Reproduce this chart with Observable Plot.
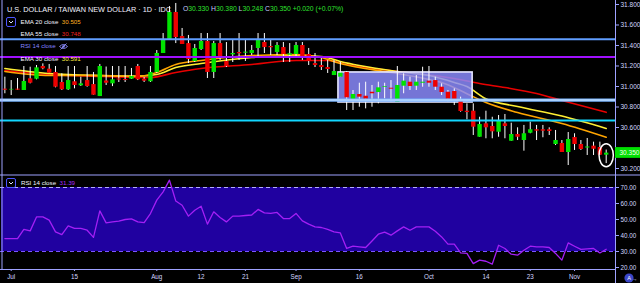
<!DOCTYPE html>
<html><head><meta charset="utf-8">
<script src="https://cdn.jsdelivr.net/npm/d3@7"></script>
<script src="https://cdn.jsdelivr.net/npm/@observablehq/plot@0.6"></script>
<style>
html,body{margin:0;padding:0;background:#000;}
#chart{position:relative;width:640px;height:283px;background:#000;overflow:hidden;font-family:"Liberation Sans",Arial,sans-serif;}
#chart svg{display:block;}
.lg{position:absolute;white-space:nowrap;line-height:1;}
.box{position:absolute;width:8px;height:8px;border:1px solid #4d55ff;border-radius:2px;}
</style></head><body><div id="chart"></div>
<script>
// ---- data (bar index -1 = Jun 28 2019, 0 = Jul 1 2019 ... 94 = Nov 8 2019)
const open = [30.974,30.966,30.974,30.961,31.075,31.071,31.195,31.169,31.137,31.039,30.968,31.046,31.007,31.058,31.019,30.902,31.054,31.026,31.073,31.068,31.071,31.195,31.071,31.046,31.137,31.322,31.459,31.722,31.488,31.419,31.244,31.361,31.439,31.137,31.419,31.244,31.309,31.332,31.325,31.322,31.371,31.429,31.390,31.332,31.380,31.305,31.312,31.400,31.312,31.224,31.205,31.185,31.107,31.091,31.137,30.873,30.922,30.905,30.944,30.941,30.993,30.983,30.844,31.003,31.042,31.003,31.032,31.052,31.058,30.993,30.944,30.951,30.863,30.759,30.759,30.505,30.636,30.610,30.554,30.636,30.466,30.532,30.473,30.544,30.578,30.578,30.578,30.434,30.444,30.356,30.502,30.434,30.400,30.418,30.405,30.330];
const high = [31.091,31.058,31.078,31.195,31.188,31.205,31.221,31.215,31.195,31.124,31.195,31.195,31.091,31.195,31.137,31.215,31.190,31.195,31.195,31.195,31.176,31.215,31.088,31.195,31.351,31.517,31.780,31.810,31.566,31.498,31.410,31.517,31.517,31.439,31.517,31.429,31.449,31.517,31.459,31.400,31.517,31.517,31.449,31.429,31.429,31.419,31.429,31.429,31.371,31.322,31.273,31.254,31.254,31.237,31.146,30.961,31.032,31.042,31.010,31.042,31.032,31.058,31.195,31.124,31.091,31.107,31.188,31.195,31.091,31.026,30.961,30.977,30.896,30.831,30.831,30.700,30.759,30.700,30.717,30.727,30.642,30.597,30.620,30.652,30.620,30.620,30.597,30.571,30.473,30.551,30.539,30.473,30.493,30.457,30.457,30.380];
const low = [30.929,30.912,30.961,30.961,31.026,31.065,31.163,31.130,30.987,30.961,30.961,30.977,31.000,30.993,30.915,30.902,31.010,30.999,31.039,31.039,31.068,31.058,31.039,31.039,31.127,31.322,31.449,31.419,31.410,31.224,31.234,31.351,31.078,31.078,31.254,31.185,31.234,31.254,31.244,31.302,31.283,31.322,31.302,31.302,31.234,31.234,31.283,31.254,31.205,31.185,31.156,31.127,31.107,31.091,30.766,30.766,30.798,30.782,30.798,30.831,30.880,30.847,30.844,30.929,30.961,30.961,30.993,30.993,30.961,30.912,30.847,30.815,30.749,30.675,30.522,30.505,30.490,30.490,30.505,30.490,30.466,30.473,30.369,30.539,30.473,30.500,30.522,30.424,30.356,30.229,30.376,30.376,30.327,30.327,30.327,30.248];
const close = [30.964,30.972,30.964,31.049,31.032,31.182,31.173,31.130,30.993,30.968,31.058,31.010,31.026,31.000,30.915,31.195,31.032,31.065,31.063,31.058,31.098,31.065,31.052,31.137,31.322,31.459,31.722,31.478,31.410,31.263,31.371,31.439,31.137,31.419,31.273,31.195,31.322,31.319,31.335,31.351,31.449,31.380,31.378,31.400,31.312,31.319,31.400,31.293,31.244,31.205,31.185,31.166,31.146,31.130,30.890,30.922,30.896,30.876,30.929,30.987,31.000,30.974,31.010,31.052,31.000,31.042,31.042,31.032,30.993,30.941,30.876,30.863,30.756,30.746,30.603,30.629,30.597,30.558,30.668,30.610,30.532,30.505,30.539,30.578,30.564,30.564,30.561,30.473,30.356,30.483,30.434,30.385,30.410,30.388,30.330,30.350];
const rsi = [38.1,38.1,38.1,43.8,42.9,51.6,51.6,49.6,42.3,40.6,46.0,44.4,44.4,43.3,38.8,55.4,47.9,48.5,49.0,50.0,50.4,48.5,48.1,53.7,62.1,67.3,74.6,61.6,58.9,52.1,55.8,58.3,47.1,54.8,51.3,48.5,52.1,52.1,52.5,52.8,56.3,54.1,53.8,54.4,50.6,50.6,53.8,49.1,47.1,45.4,45.0,43.8,42.3,41.6,31.9,33.3,32.9,32.5,36.6,40.8,42.1,40.2,42.9,45.4,43.3,45.4,45.4,45.4,42.7,39.1,34.6,34.6,29.1,28.8,22.4,24.6,23.9,22.1,33.9,31.9,28.3,27.7,30.8,33.3,32.9,32.9,32.5,28.8,24.6,35.4,33.3,31.3,31.6,31.9,29.1,31.39];

// EMA values at sample bars
const ema20Idx = [-1,6,14,20,23,26,30,38,45,49,52,55,61,66,68,72,75,80,87,94];
const ema20Val = [31.146,31.107,31.107,31.098,31.137,31.215,31.254,31.302,31.312,31.283,31.224,31.185,31.127,31.068,31.039,30.930,30.844,30.746,30.639,30.505];
const ema30Idx = [-1,6,14,20,23,26,30,38,45,49,52,55,61,66,70,72,75,80,87,94];
const ema30Val = [31.176,31.127,31.107,31.102,31.117,31.185,31.224,31.283,31.302,31.293,31.244,31.205,31.146,31.107,31.040,31.000,30.880,30.805,30.712,30.591];
const ema55Idx = [-1,6,14,22,26,30,38,45,50,53,61,70,74,78,83,87,94];
const ema55Val = [31.156,31.117,31.098,31.088,31.137,31.176,31.215,31.254,31.254,31.215,31.146,31.078,31.029,30.990,30.932,30.863,30.748];

// drawings
const hLevelTop = [31.461];
const hLevelPurple = [31.288];
const hLevelMid = [30.868];
const hLevelCyan = [30.668];
const zone = [{start: 51.7, end: 72.9, top: 31.137, bottom: 30.844}];
const circled = [{i: 94, p: 30.33}];

// axes (30.400 sits under the last-price label)
const priceTicks = [30.2,30.6,30.8,31.0,31.2,31.4,31.6,31.8];
const rsiTicks = [20,30,40,50,60,70];
const rsiBand = [{lo: 30, hi: 70}];
const timeTickIdx = [0,10,23,30,37,45,55,66,75,82,89];
const timeTickLabels = ["Jul","15","Aug","12","21","Sep","16","Oct","14","23","Nov"];

// ---- build
const idx = d3.range(-1, 95);
const bars = idx.map((i, k) => ({i, o: open[k], h: high[k], l: low[k], c: close[k]}));
const rsiData = idx.map((i, k) => ({i, v: rsi[k]}));
const ema = (I, V) => I.map((i, k) => ({i, v: V[k]}));
const e20 = ema(ema20Idx, ema20Val), e30 = ema(ema30Idx, ema30Val), e55 = ema(ema55Idx, ema55Val);

const xDom = [-1.69, 95.47];
const yDom = [30.1415, 31.839];
const rDom = [18.75, 78.125];
const UP = "#00e400", DOWN = "#ee0000", AX = "#9ea2ff", LBL = "#d3d6ff";
const FONT = "Liberation Sans, Arial, sans-serif";
const last = bars[bars.length - 1], prev = bars[bars.length - 2];

const ellipse = {draw(ctx, size) {
  const ry = Math.sqrt(size / Math.PI), rx = ry * 0.62, k = 0.5523;
  ctx.moveTo(0, -ry);
  ctx.bezierCurveTo(k*rx, -ry, rx, -k*ry, rx, 0);
  ctx.bezierCurveTo(rx, k*ry, k*rx, ry, 0, ry);
  ctx.bezierCurveTo(-k*rx, ry, -rx, k*ry, -rx, 0);
  ctx.bezierCurveTo(-rx, -k*ry, -k*rx, -ry, 0, -ry);
  ctx.closePath();
}};

const main = Plot.plot({
  width: 640, height: 174, marginLeft: 0, marginRight: 25, marginTop: 0, marginBottom: 0,
  x: {domain: xDom, axis: null},
  y: {domain: yDom, axis: null},
  style: {background: "transparent", color: LBL, fontFamily: FONT, fontSize: "6.5px", overflow: "visible"},
  marks: [
    Plot.line(e55, {x: "i", y: "v", stroke: "#e80000", strokeWidth: 1.6, curve: "monotone-x"}),
    Plot.line(e30, {x: "i", y: "v", stroke: "#ffee33", strokeWidth: 1.6, curve: "monotone-x"}),
    Plot.line(e20, {x: "i", y: "v", stroke: "#ffa500", strokeWidth: 1.6, curve: "monotone-x"}),
    Plot.rect(zone, {x1: "start", x2: "end", y1: "bottom", y2: "top", fill: "#8c8cff", fillOpacity: 0.84, stroke: "#e6e6ff", strokeWidth: 1.6}),
    Plot.ruleX(bars, {x: "i", y1: "l", y2: "h", stroke: "#ffffff", strokeWidth: 1}),
    Plot.ruleX(bars, {x: "i", y1: "o", y2: "c", stroke: d => d.c >= d.o ? UP : DOWN, strokeWidth: 4.4}),
    Plot.ruleY(hLevelTop, {stroke: "#5f9dff", strokeWidth: 2}),
    Plot.ruleY(hLevelPurple, {stroke: "#a010ff", strokeWidth: 2}),
    Plot.ruleY(hLevelMid, {stroke: "#78b4ff", strokeWidth: 3.2}),
    Plot.ruleY(hLevelMid, {stroke: "#d8ecff", strokeWidth: 1}),
    Plot.ruleY(hLevelCyan, {stroke: "#12d6ff", strokeWidth: 2}),
    Plot.dot(circled, {x: "i", y: "p", r: 11.5, symbol: ellipse, stroke: "#ffffff", strokeWidth: 1.5, fill: "none"}),
    Plot.ruleX([xDom[1]], {stroke: AX}),
    Plot.ruleX([xDom[0]], {stroke: AX, dx: 1.5}),
    Plot.axisY(priceTicks, {anchor: "right", tickFormat: d3.format(".3f"), tickSize: 3, tickPadding: 2, fontSize: 6.5, stroke: AX, fill: LBL}),
    Plot.rect([last], {x1: xDom[1], x2: xDom[1] + 4, y1: d => d.c - 0.051, y2: d => d.c + 0.054, fill: "#00e000"}),
    Plot.text([last], {x: xDom[1], y: "c", dx: 4, text: d => d3.format(".3f")(d.c), textAnchor: "start", fill: "#f2fff2", fontSize: 6.5})
  ]
});

const lower = Plot.plot({
  width: 640, height: 109, marginLeft: 0, marginRight: 25, marginTop: 0, marginBottom: 14,
  x: {domain: xDom, axis: null},
  y: {domain: rDom, axis: null},
  style: {background: "transparent", color: LBL, fontFamily: FONT, fontSize: "6.3px", overflow: "visible"},
  marks: [
    Plot.rect(rsiBand, {x1: xDom[0], x2: xDom[1], y1: "lo", y2: "hi", fill: "#2001a0", dx: 1}),
    Plot.ruleY(rsiBand, {y: "hi", stroke: "#b4acff", strokeDasharray: "4,3", strokeWidth: 1}),
    Plot.ruleY(rsiBand, {y: "lo", stroke: "#7a55ff", strokeDasharray: "4,3", strokeWidth: 1}),
    Plot.line(rsiData, {x: "i", y: "v", stroke: "#a41ff5", strokeWidth: 1.3}),
    Plot.ruleY([rDom[1]], {stroke: AX, dy: 0.5, insetRight: -25}),
    Plot.ruleY([rDom[0]], {stroke: AX}),
    Plot.ruleX([xDom[1]], {stroke: AX, insetBottom: -14}),
    Plot.ruleX([xDom[0]], {stroke: AX, dx: 1.5}),
    Plot.axisY(rsiTicks, {anchor: "right", tickFormat: d3.format(".2f"), tickSize: 3, tickPadding: 2, fontSize: 6.3, stroke: AX, fill: LBL}),
    Plot.axisX(timeTickIdx, {anchor: "bottom", tickSize: 2, tickPadding: 3, fontSize: 6.3, stroke: AX, fill: LBL,
      tickFormat: d => timeTickLabels[timeTickIdx.indexOf(d)]}),
    // auto-scale button at the bottom right corner
    Plot.dot([rDom[0]], {x: xDom[1], y: d => d, dx: 13.5, dy: 8.5, r: 4.6, fill: "#3b47c8"}),
    Plot.text(["A"], {x: xDom[1], y: rDom[0], dx: 13.5, dy: 8.7, text: d => d, fill: "#ffffff", fontSize: 5.5})
  ]
});

const root = document.getElementById("chart");
root.appendChild(main);
root.appendChild(lower);

const f3 = d3.format(".3f");
const chg = last.c - prev.c;
const sign = chg >= 0 ? "+" : "−";
const pct = Math.abs(chg) / prev.c * 100;
const chev = '<svg width="8" height="8" viewBox="0 0 8 8" style="display:block"><polyline points="2,3 4,5 6,3" fill="none" stroke="#d8dbff" stroke-width="1"/></svg>';
const eye = '<svg width="9" height="7" viewBox="0 0 9 7" style="display:inline-block;vertical-align:middle;margin-left:3px"><path d="M0.5,3.5 Q4.5,-0.5 8.5,3.5 Q4.5,7.5 0.5,3.5Z" fill="none" stroke="#8d8dff" stroke-width="0.9"/><circle cx="4.5" cy="3.5" r="1.2" fill="#8d8dff"/><line x1="1.5" y1="6.5" x2="7.5" y2="0.5" stroke="#8d8dff" stroke-width="0.9"/></svg>';
const html = `<div class="lg" style="left:7px;top:5.5px;font-size:7.3px;color:#f2f2ff">U.S. DOLLAR / TAIWAN NEW DOLLAR · 1D · IDC</div><div class="lg" style="left:183px;top:6px;font-size:6.8px;color:#2fe02f"><span style="color:#c9ccff">O</span>${f3(last.o)} <span style="color:#c9ccff">H</span>${f3(last.h)} <span style="color:#c9ccff">L</span>${f3(last.l)} <span style="color:#c9ccff">C</span>${f3(last.c)} ${sign}${f3(Math.abs(chg))} (${sign}${pct.toFixed(2)}%)</div><div class="box" style="left:6px;top:17px">${chev}</div><div class="lg" style="left:20.5px;top:18.7px;font-size:6.2px;color:#f4f4ff">EMA 20 close&nbsp;&nbsp;<span style="color:#ffb020">${f3(ema20Val[ema20Val.length-1])}</span></div><div class="lg" style="left:20.5px;top:30.9px;font-size:6.2px;color:#f4f4ff">EMA 55 close&nbsp;&nbsp;<span style="color:#f02020">${f3(ema55Val[ema55Val.length-1])}</span></div><div class="lg" style="left:20.5px;top:43.4px;font-size:6.2px;color:#8484ff">RSI 14 close${eye}</div><div class="lg" style="left:20.5px;top:56px;font-size:6.2px;color:#f4f4ff">EMA 30 close&nbsp;&nbsp;<span style="color:#ffef40">${f3(ema30Val[ema30Val.length-1])}</span></div><div class="box" style="left:6px;top:178px">${chev}</div><div class="lg" style="left:21px;top:180px;font-size:6.2px;color:#f4f4ff">RSI 14 close&nbsp;&nbsp;<span style="color:#a52cff">${rsi[rsi.length-1].toFixed(2)}</span></div>`;
root.insertAdjacentHTML("beforeend", html);
</script></body></html>
